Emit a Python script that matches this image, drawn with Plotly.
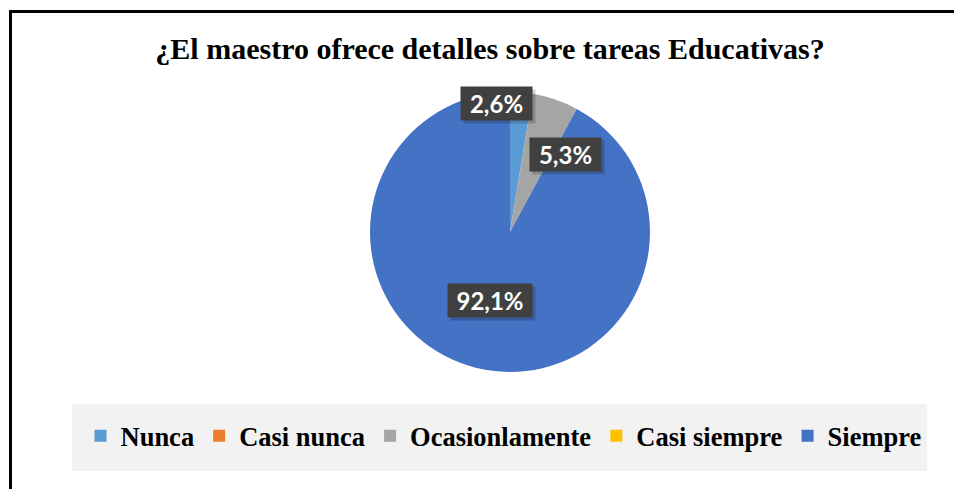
import numpy as np
import plotly.graph_objects as go

# Datos
categorias = ['Nunca', 'Casi nunca', 'Ocasionlamente', 'Casi siempre', 'Siempre']
porcentajes = [2.6, 0.0, 5.3, 0.0, 92.1]
colores = ['#5B9BD5', '#ED7D31', '#A5A5A5', '#FFC000', '#4472C4']
titulo = '¿El maestro ofrece detalles sobre tareas Educativas?'

W, H = 954, 489
cx_px, cy_px, r_px = 510, 232, 140

# ajuste de etiquetas (desplazamiento angular en grados, fraccion del radio)
ajuste_etiq = {'Nunca': (-10.5, 0.92), 'Ocasionlamente': (16.6, 0.68), 'Siempre': (2.2, 0.51)}

fig = go.Figure()

fig.add_trace(go.Pie(
    labels=categorias,
    values=porcentajes,
    sort=False,
    direction='clockwise',
    rotation=0,
    marker=dict(colors=colores, line=dict(width=0)),
    textinfo='none',
    hoverinfo='label+percent',
    showlegend=False,
    domain=dict(x=[(cx_px - r_px) / W, (cx_px + r_px) / W],
                y=[1 - (cy_px + r_px) / H, 1 - (cy_px - r_px) / H]),
))

# Leyenda con trazas auxiliares (incluye categorias con 0 %)
for cat, col in zip(categorias, colores):
    fig.add_trace(go.Scatter(
        x=[None], y=[None], mode='markers', name=cat,
        marker=dict(symbol='square', size=12, color=col),
        showlegend=True,
    ))

# Etiquetas de datos con recuadro oscuro (y sombra)
total = sum(porcentajes)
acum = 0.0
for cat, v in zip(categorias, porcentajes):
    medio = (acum + v / 2) / total * 360
    acum += v
    if v <= 0:
        continue
    dang, frac = ajuste_etiq.get(cat, (0, 0.7))
    th = np.radians(medio + dang)
    x = (cx_px + r_px * frac * np.sin(th)) / W
    y = 1 - (cy_px - r_px * frac * np.cos(th)) / H
    txt = f'{v:.1f}%'.replace('.', ',')
    ancho = 13 * len(txt) + 19
    # sombra
    fig.add_annotation(
        x=x, y=y, xref='paper', yref='paper', text=' ', showarrow=False,
        bgcolor='rgba(0,0,0,0.18)', width=ancho, height=33, borderpad=0,
        xshift=3, yshift=-3, xanchor='center', yanchor='middle',
    )
    fig.add_annotation(
        x=x, y=y, xref='paper', yref='paper', text=txt, showarrow=False,
        font=dict(family='Lato', size=24, color='white', weight='bold'),
        bgcolor='#404040', width=ancho, height=33, borderpad=0,
        xanchor='center', yanchor='middle',
    )

fig.update_layout(
    width=W, height=H,
    margin=dict(l=0, r=0, t=0, b=0),
    paper_bgcolor='white',
    plot_bgcolor='white',
    xaxis=dict(visible=False),
    yaxis=dict(visible=False),
    title=dict(text=f'<b>{titulo}</b>', x=490 / W, y=1 - 48 / H,
               xanchor='center', yanchor='middle',
               font=dict(family='Liberation Serif', size=30, color='black')),
    legend=dict(orientation='h', x=504 / W, y=1 - 436 / H,
                xanchor='center', yanchor='middle',
                bgcolor='rgba(0,0,0,0)',
                itemwidth=30,
                font=dict(family='Liberation Serif', size=26.5, color='black', weight='bold')),
    shapes=[
        dict(type='rect', xref='paper', yref='paper', layer='below',
             x0=72 / W, x1=927 / W, y0=1 - 471 / H, y1=1 - 404 / H,
             fillcolor='#F2F2F2', line=dict(width=0)),
        dict(type='rect', xref='paper', yref='paper',
             x0=10.5 / W, x1=1.05, y0=-0.05, y1=1 - 11.5 / H,
             fillcolor='rgba(0,0,0,0)', line=dict(color='black', width=3)),
    ],
)

fig.write_html('out.html', config={'displayModeBar': False},
               post_script="document.body.style.margin='0';document.body.style.overflow='hidden';")
